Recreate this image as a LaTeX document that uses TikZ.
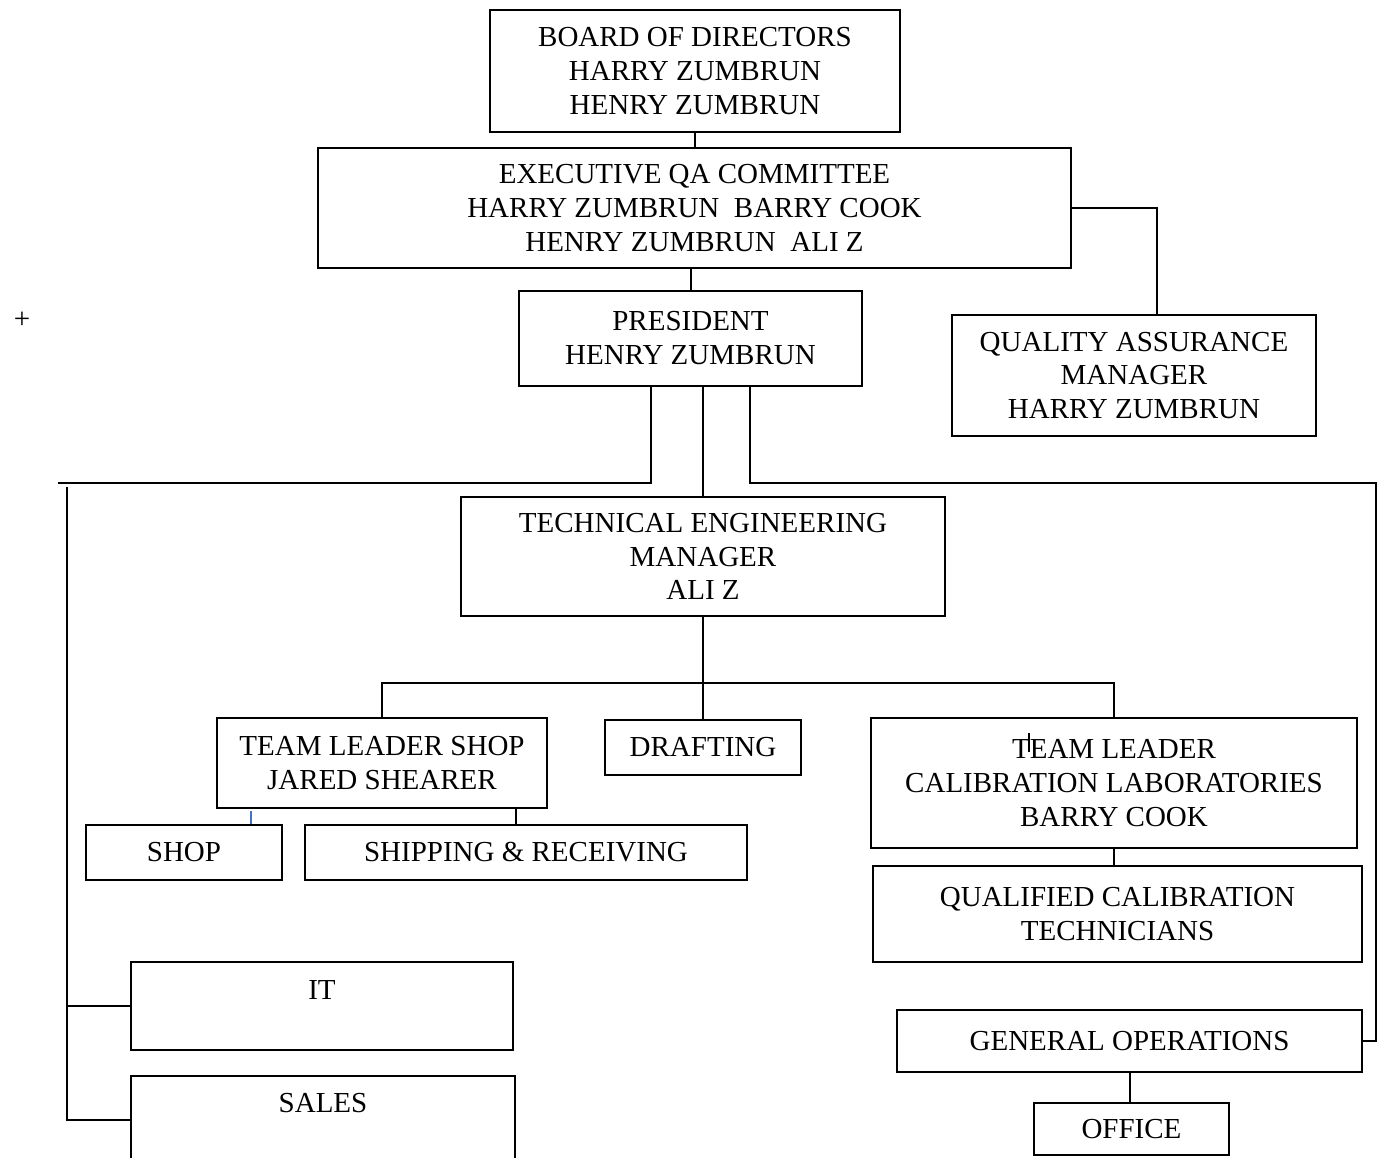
\documentclass[tikz,border=0pt]{standalone}
\usepackage{fontspec}
\setmainfont{Liberation Serif}
\usepackage{xcolor}
\usetikzlibrary{calc}
\definecolor{tickblue}{RGB}{68,114,196}

\begin{document}
\begin{tikzpicture}[x=0.5pt, y=-0.5pt, line width=1pt,
    orgbox/.style={draw, line width=1pt, inner sep=0pt, align=center, font=\fontsize{14.5}{16.8}\selectfont}]
    \clip (0,0) rectangle (1381,1157);

    % Top of the chart
    \node[orgbox, minimum width=205pt, minimum height=61pt] (board) at (695,71) {BOARD OF DIRECTORS\\HARRY ZUMBRUN\\HENRY ZUMBRUN};
    \node[orgbox, minimum width=376.5pt, minimum height=60pt] (exec) at (694.5,208) {EXECUTIVE QA COMMITTEE\\HARRY ZUMBRUN~ BARRY COOK\\HENRY ZUMBRUN~ ALI Z};
    \node[orgbox, minimum width=171.5pt, minimum height=47.5pt] (pres) at (690.5,338) {PRESIDENT\\HENRY ZUMBRUN};
    \node[orgbox, minimum width=182pt, minimum height=60.5pt] (qa) at (1134,375.5) {QUALITY ASSURANCE\\MANAGER\\HARRY ZUMBRUN};
    \node[font=\fontsize{14.5}{16.8}\selectfont] (plus) at (22,320) {+};

    % Engineering
    \node[orgbox, minimum width=242pt, minimum height=59.5pt] (tech) at (703,556.5) {TECHNICAL ENGINEERING\\MANAGER\\ ALI Z};
    \node[orgbox, minimum width=165pt, minimum height=45pt] (tlshop) at (382,763) {TEAM LEADER SHOP\\JARED SHEARER};
    \node[orgbox, minimum width=98pt, minimum height=27.5pt] (draft) at (703,747.5) {DRAFTING};
    \node[orgbox, minimum width=243pt, minimum height=65pt] (tlcal) at (1114,783) {TEAM LEADER\\CALIBRATION LABORATORIES\\BARRY COOK};
    \node[orgbox, minimum width=98pt, minimum height=27.5pt] (shop) at (184,852.5) {SHOP};
    \node[orgbox, minimum width=221pt, minimum height=27.5pt] (ship) at (526,852.5) {SHIPPING \& RECEIVING};
    \node[orgbox, minimum width=244.5pt, minimum height=48pt] (qct) at (1117.5,914) {QUALIFIED CALIBRATION\\TECHNICIANS};

    % Bottom boxes
    \node[orgbox, minimum width=191pt, minimum height=44pt] (it) at (322,1006) {IT\\[-6pt]\strut};
    \node[orgbox, minimum width=192pt, minimum height=44pt] (sales) at (323,1120) {SALES\\[-5pt]\strut};
    \node[orgbox, minimum width=232.5pt, minimum height=31pt] (genops) at (1129.5,1041) {GENERAL OPERATIONS};
    \node[orgbox, minimum width=97.5pt, minimum height=26pt] (office) at (1131.5,1129) {OFFICE};

    % Connectors
    \coordinate (lbus) at (58,483);
    \coordinate (lline) at (67,487);
    \coordinate (rbus) at (1376,483);
    \coordinate (tbus) at (704,683);
    \draw (board.south) -- (board.south |- exec.north);
    \draw (pres.north) -- (pres.north |- exec.south);
    \draw (exec.east) -| ($(qa.north)+(23,0)$);
    \draw ($(pres.south)+(-40,0)$) |- (lbus);
    \draw (tech.north) -- (tech.north |- pres.south);
    \draw ($(pres.south)+(59.5,0)$) |- (rbus) |- (genops.east);
    \draw (lline) |- (sales.west);
    \draw (it.west) -- (it.west -| lline);
    \draw (tlshop.north) |- (tbus) -| (tlcal.north);
    \draw (tech.south) -- (draft.north);
    \draw ($(tlshop.south east)+(-32,0)$) coordinate (sr) -- (sr |- ship.north);
    \draw[tickblue] ($(shop.north east)+(-32,0)$) -- ++(0,-13);
    \draw (tlcal.south) -- (tlcal.south |- qct.north);
    \draw (genops.south) -- (genops.south |- office.north);
    \draw[line width=0.6pt] (1029,733) -- (1029,752);
\end{tikzpicture}
\end{document}
